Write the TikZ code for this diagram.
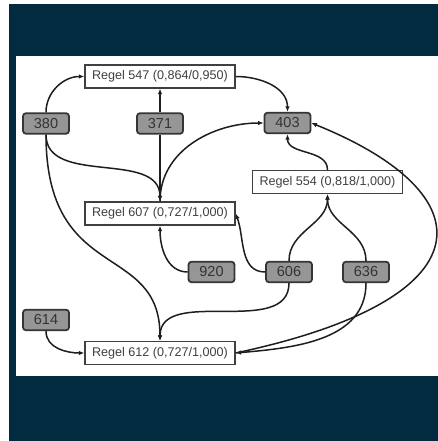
\documentclass[tikz,border=0pt]{standalone}
\usepackage{fontspec}
\setmainfont{Liberation Sans}
\usepackage{tikz}
\usetikzlibrary{positioning}
\usetikzlibrary{arrows.meta}

\definecolor{slate}{RGB}{2,43,64}
\definecolor{itemgrey}{RGB}{150,150,150}
\definecolor{linegrey}{RGB}{30,30,30}

\tikzset{
    regel/.style={draw=linegrey!85, line width=1.4pt, fill=white, minimum width=150pt,
        minimum height=23pt, inner sep=0pt, text=black!75, font=\fontsize{12.6}{14}\selectfont},
    item/.style={draw=linegrey!90, line width=1.8pt, fill=itemgrey, rounded corners=3pt,
        minimum width=46pt, minimum height=20.5pt, inner sep=0pt, text=black!80,
        font=\fontsize{14.5}{16}\selectfont},
    link/.style={-{Latex[length=5.5pt,width=4.6pt]}, line width=1.5pt, draw=linegrey},
}

\begin{document}
\begin{tikzpicture}[x=1pt,y=1pt]
    \useasboundingbox (0,0) rectangle (438,441);
    \fill[slate] (9,0) rectangle (438,437);
    \fill[white] (16,65) rectangle (438,385);

    \node[regel] (r547) at (160,364.5) {Regel 547 (0,864/0,950)};
    \node[item] (i380) at (46,317.5) {380};
    \node[item] (i371) at (160,317.5) {371};
    \node[item] (i403) at (287.5,318) {403};
    \node[regel] (r554) at (327.5,259) {Regel 554 (0,818/1,000)};
    \node[regel] (r607) at (160,227.5) {Regel 607 (0,727/1,000)};
    \node[item] (i920) at (211.5,169) {920};
    \node[item] (i606) at (289,169) {606};
    \node[item] (i636) at (366,169) {636};
    \node[item] (i614) at (46,121) {614};
    \node[regel] (r612) at (160,88) {Regel 612 (0,727/1,000)};

    % regel 547
    \draw[link] (i380.north) to[out=90,in=180] (r547.west);
    \draw[link] (i371.north) -- (r547.south);
    \draw[link] (r547.east) to[out=0,in=90] (i403.north);

    % regel 607
    \draw[link] (i380.south) to[out=-90,in=90] (r607.north);
    \draw[link] (i371.south) -- (r607.north);
    \draw[link] (i920.west) to[out=180,in=-90] (r607.south);
    \draw[link] (i606.west) to[out=180,in=-70] (r607.east);
    \draw[link] (r607.north) to[out=90,in=180] (i403.west);

    % regel 554
    \draw[link] (i606.north) to[out=90,in=-90] (r554.south);
    \draw[link] (i636.north) to[out=90,in=-90] (r554.south);
    \draw[link] (r554.north) to[out=90,in=-90] (i403.south);

    % regel 612
    \draw[link] (i380.south) .. controls +(0,-150) and +(0,100) .. (r612.north);
    \draw[link] (i606.south) to[out=-90,in=90] (r612.north);
    \draw[link] (i636.south) to[out=-90,in=5] (r612.east);
    \draw[link] (i614.south) to[out=-90,in=180] (r612.west);
    \draw[link] (r612.east) .. controls +(12:260) and +(-22:190) .. (i403.east);
\end{tikzpicture}
\end{document}
